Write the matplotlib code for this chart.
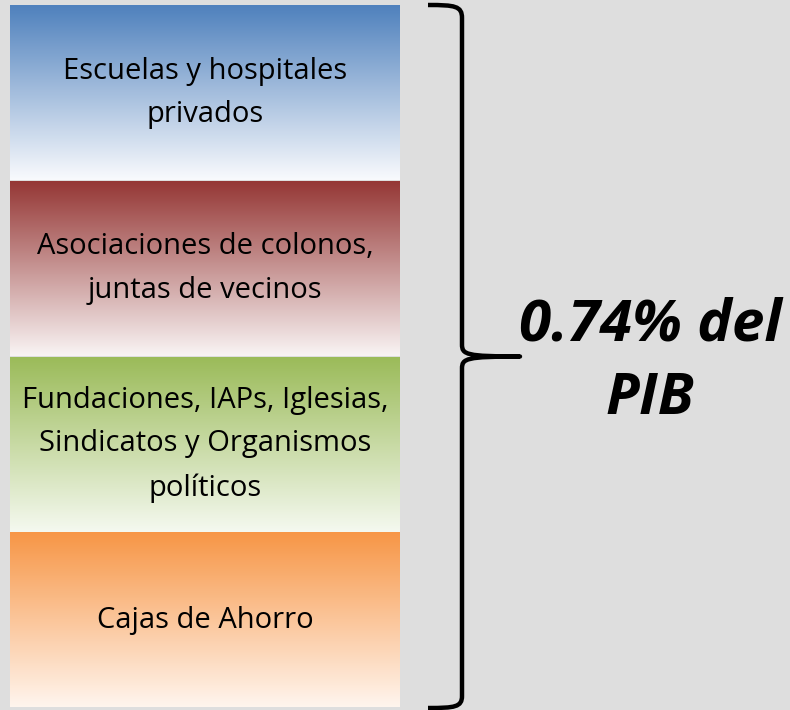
import numpy as np
import matplotlib
matplotlib.use("Agg")
import matplotlib.pyplot as plt
from matplotlib.colors import LinearSegmentedColormap
from matplotlib.path import Path
from matplotlib.patches import PathPatch

categories = [
    "Escuelas y hospitales\nprivados",
    "Asociaciones de colonos,\njuntas de vecinos",
    "Fundaciones, IAPs, Iglesias,\nSindicatos y Organismos\npolíticos",
    "Cajas de Ahorro",
]
shares = [1, 1, 1, 1]  # equal-sized blocks
top_colors = ["#4f81bd", "#953735", "#9bbb59", "#f79646"]
bottom_colors = ["#f9fafd", "#f9f4f4", "#f5f9f0", "#fff5ee"]
total_label = "0.74% del\nPIB"

W, H = 790, 710
fig = plt.figure(figsize=(W / 100, H / 100), dpi=100)
fig.patch.set_facecolor("#dedede")
ax = fig.add_axes([0, 0, 1, 1])
ax.set_xlim(0, W)
ax.set_ylim(H, 0)
ax.axis("off")

x0, x1 = 10, 400
y_top, y_bot = 5, 708
unit = (y_bot - y_top) / sum(shares)
y = y_top
grad = np.linspace(0, 1, 256).reshape(-1, 1)
for cat, s, ct, cb in zip(categories, shares, top_colors, bottom_colors):
    h = s * unit
    cmap = LinearSegmentedColormap.from_list("g", [ct, cb])
    ax.imshow(grad, cmap=cmap, extent=(x0, x1, y + h - 0.5, y + 0.5),
              aspect="auto", interpolation="bilinear", zorder=1)
    ax.text((x0 + x1) / 2, y + h / 2, cat, ha="center", va="center",
            fontsize=21, family="Open Sans", linespacing=1.66, color="#000000", zorder=3)
    y += h

# brace
bx = 462
ymid = (y_top + y_bot) / 2
verts = [
    (428, 5), (455, 5), (bx, 6), (bx, 18),
    (bx, ymid - 12),
    (bx, ymid - 2), (bx + 4, ymid), (520, ymid),
    (bx + 4, ymid), (bx, ymid + 2), (bx, ymid + 12),
    (bx, y_bot - 12),
    (bx, y_bot - 1), (455, y_bot), (428, y_bot),
]
codes = [Path.MOVETO, Path.CURVE4, Path.CURVE4, Path.CURVE4,
         Path.LINETO,
         Path.CURVE4, Path.CURVE4, Path.CURVE4,
         Path.CURVE4, Path.CURVE4, Path.CURVE4,
         Path.LINETO,
         Path.CURVE4, Path.CURVE4, Path.CURVE4]
ax.add_patch(PathPatch(Path(verts, codes), fill=False, lw=3.2, color="#000000",
                       capstyle="butt", joinstyle="round", zorder=4))

ax.text(650, 362, total_label, ha="center", va="center", fontsize=42,
        family="Open Sans", fontweight="bold", fontstyle="italic",
        linespacing=1.35, color="#000000", zorder=4)

fig.savefig("out.png", dpi=100, facecolor=fig.get_facecolor())
